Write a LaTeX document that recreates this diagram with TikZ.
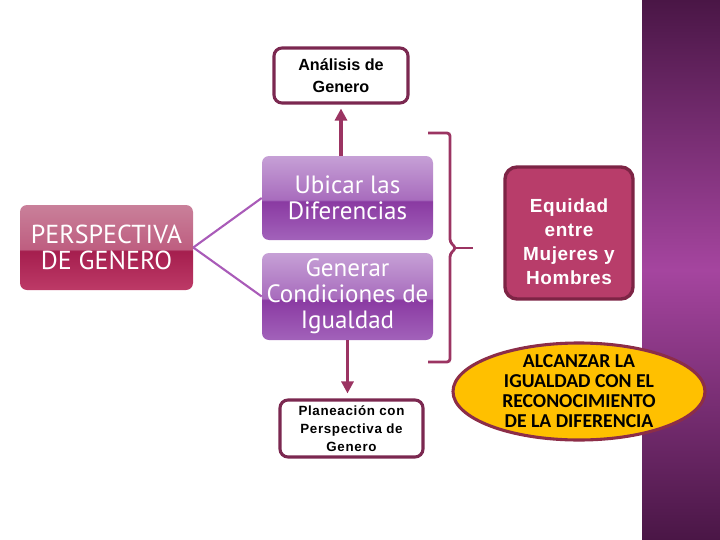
\documentclass[tikz,border=0pt]{standalone}
\usepackage{fontspec}
\usetikzlibrary{arrows.meta,positioning,shapes.geometric}
\newfontfamily\glossfont{PT Sans}
\newfontfamily\tagfont{Liberation Sans}
\newfontfamily\planfont[LetterSpace=5]{Liberation Sans}
\newfontfamily\eqfont[LetterSpace=3]{Liberation Sans}
\newfontfamily\goalfont{Carlito}
\definecolor{maroon}{HTML}{7B2850}
\definecolor{wine}{HTML}{9B3462}
\definecolor{rose}{HTML}{B83D6A}
\definecolor{roseDark}{HTML}{7D2445}
\definecolor{roseA}{HTML}{C9809A}
\definecolor{roseB}{HTML}{BD3A67}
\definecolor{roseC}{HTML}{A51E4E}
\definecolor{roseD}{HTML}{BE5E80}
\definecolor{lilacA}{HTML}{C6A0D6}
\definecolor{lilacB}{HTML}{A262BA}
\definecolor{lilacC}{HTML}{8A3AA2}
\definecolor{lilacD}{HTML}{A86CBD}
\definecolor{linkc}{HTML}{A95BB8}
\definecolor{gold}{HTML}{FFC000}
\definecolor{goalrim}{HTML}{8C2D48}
\definecolor{plumTop}{HTML}{4A1646}
\definecolor{plumMid}{HTML}{A5459F}
\newdimen\px \px=0.25mm
\pgfdeclareverticalshading{rosegloss}{100bp}{color(0bp)=(roseB); color(25bp)=(roseB);
  color(48bp)=(roseC); color(49bp)=(roseD); color(75bp)=(roseA); color(100bp)=(roseA)}
\pgfdeclareverticalshading{lilacgloss}{100bp}{color(0bp)=(lilacB); color(25bp)=(lilacB);
  color(48bp)=(lilacC); color(49bp)=(lilacD); color(75bp)=(lilacA); color(100bp)=(lilacA)}

\begin{document}
\begin{tikzpicture}[x=0.25mm,y=-0.25mm,
  gloss/.style={rounded corners=7*\px,text=white,align=center,inner sep=0pt,
    font=\glossfont\fontsize{17.8}{18.5}\selectfont},
  rosebox/.style={gloss,shading=rosegloss},
  lilacbox/.style={gloss,shading=lilacgloss,minimum width=171*\px},
  tagbox/.style={draw=maroon,line width=2.2pt,fill=white,rounded corners=8*\px,align=center,inner sep=0pt,
    font=\tagfont\bfseries\fontsize{11.5}{15.5}\selectfont},
  goal/.style={ellipse,draw=goalrim,line width=2.2pt,fill=gold,inner sep=0pt},
  link/.style={draw=linkc,line width=1.5pt},
  arr/.style={-{Triangle[length=3mm,width=3mm]},draw=wine,line width=2.2pt},
  brace/.style={draw=wine,line width=2pt,rounded corners=3*\px}]
\useasboundingbox (0,0) rectangle (720,540);

% ---------- side band ----------
\shade[top color=plumTop,bottom color=plumTop,middle color=plumMid] (642,0) rectangle (720,540);

% ---------- left: the perspective ----------
\node[rosebox,minimum width=173*\px,minimum height=85*\px,
  font=\glossfont\fontsize{18.5}{19}\selectfont] (persp) at (106.5,247.5)
  {PERSPECTIVA\\DE GENERO};

% ---------- middle column ----------
\node[lilacbox,minimum height=84*\px] (ubicar) at (347.5,198) {Ubicar las\\Diferencias};
\node[lilacbox,minimum height=87*\px] (generar) at (347.5,296.5) {Generar\\Condiciones de\\Igualdad};
\node[tagbox,minimum width=134*\px,minimum height=55*\px] (analisis) at (341,75.5) {Análisis de\\Genero};
\node[tagbox,minimum width=143*\px,minimum height=57*\px,
  font=\planfont\bfseries\fontsize{9.5}{12.8}\selectfont] (planea) at (351.5,428.5)
  {Planeación con\\Perspectiva de\\Genero};

\draw[link] (persp.east) -- (ubicar.west);
\draw[link] (persp.east) -- (generar.west);
\draw[arr,shorten >=4*\px] (ubicar.north -| analisis.south) -- (analisis.south);
\draw[arr,shorten >=5*\px] (generar.south) -- (generar.south |- planea.north);

% ---------- bracket ----------
\coordinate (bt) at (428,133);
\coordinate (bb) at (428,362);
\coordinate (bm) at (473,248);
\draw[brace] (bt) -- (450,133) -- (450,242) -- (456,248) -- (450,254) -- (450,362) -- (bb);
\draw[brace] (456,248) -- (bm);

% ---------- right: the goal ----------
\node[draw=roseDark,line width=2.4pt,fill=rose,rounded corners=12*\px,inner sep=0pt,
  minimum width=128*\px,minimum height=132*\px] (equidad) at (569,233) {};
\node[align=center,inner sep=0pt,text=white,font=\eqfont\bfseries\fontsize{13.5}{17}\selectfont]
  (equidadtxt) at ([yshift=-9*\px]equidad.center) {Equidad\\entre\\Mujeres y\\Hombres};
\node[goal,minimum width=252*\px,minimum height=97*\px] (alcanzar) at (579,391.5) {};
\node[align=center,inner sep=0pt,font=\goalfont\bfseries\fontsize{14}{14.2}\selectfont] (alcanzartxt) at (alcanzar)
  {ALCANZAR LA\\IGUALDAD CON EL\\RECONOCIMIENTO\\DE LA DIFERENCIA};
\end{tikzpicture}
\end{document}
